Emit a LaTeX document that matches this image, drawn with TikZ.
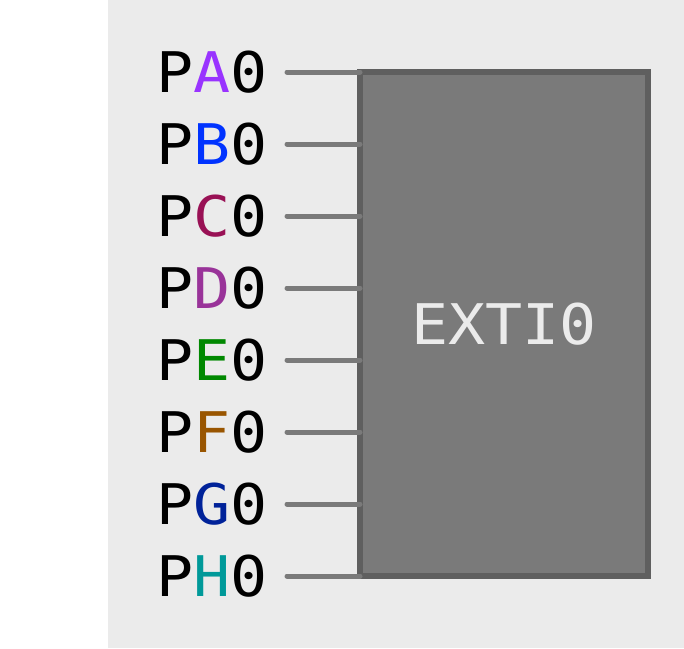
\documentclass[tikz,border=0pt]{standalone}
\usepackage{fontspec}
\setmonofont[FakeStretch=1.1]{DejaVu Sans Mono}
\definecolor{bg}{HTML}{EBEBEB}
\definecolor{boxfill}{HTML}{7A7A7A}
\definecolor{boxline}{HTML}{5F5F5F}
\definecolor{cA}{HTML}{9933FF}
\definecolor{cB}{HTML}{0033FF}
\definecolor{cC}{HTML}{991155}
\definecolor{cD}{HTML}{993399}
\definecolor{cE}{HTML}{008800}
\definecolor{cF}{HTML}{995500}
\definecolor{cG}{HTML}{002299}
\definecolor{cH}{HTML}{009999}
\tikzset{
  pinlabel/.style={anchor=east, inner sep=0pt, font=\fontsize{56}{60}\selectfont\ttfamily, text=black},
  wire/.style={draw=boxfill, line width=5pt, line cap=round},
  extibox/.style={draw=boxline, fill=boxfill, line width=6pt, line join=miter, minimum width=288pt, minimum height=504pt, inner sep=0pt}
}
\begin{document}
\begin{tikzpicture}[x=1pt,y=1pt]
\useasboundingbox (0,0) rectangle (684,-648);
\fill[bg] (108,0) rectangle (684,-648);
\node[extibox] (box) at (504,-324) {};
\node[font=\fontsize{56}{60}\selectfont\ttfamily, text=bg] (lbl) at (504,-324) {EXTI0};
\foreach \L [count=\i from 0] in {A,B,C,D,E,F,G,H}{
  \coordinate (w\L) at (287,-72-72*\i);
  \coordinate (e\L) at (360,-72-72*\i);
  \node[pinlabel] (p\L) at (268,-72-72*\i) {P\textcolor{c\L}{\L}0};
  \draw[wire] (w\L) -- (e\L);
}
\end{tikzpicture}
\end{document}
